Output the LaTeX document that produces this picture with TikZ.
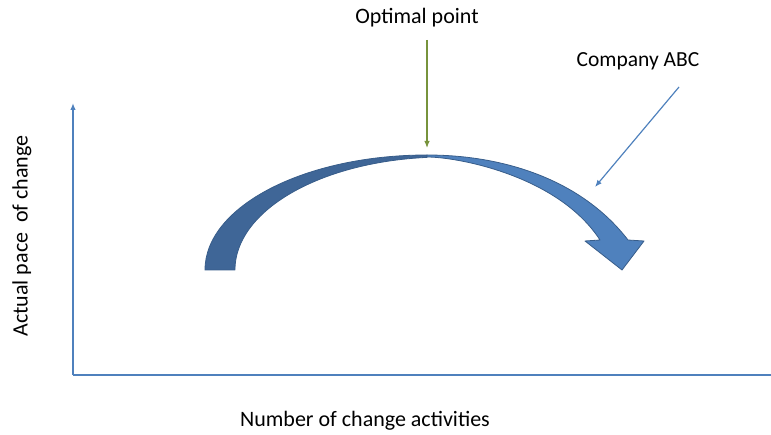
\documentclass[tikz,border=0pt]{standalone}
\usepackage{fontspec}
\setmainfont{Carlito}
\usetikzlibrary{arrows.meta}
\definecolor{axisblue}{HTML}{4F81BD}
\definecolor{bandlight}{HTML}{4F81BD}
\definecolor{banddark}{HTML}{3F6697}
\definecolor{bandedge}{HTML}{385D8A}
\definecolor{pointgreen}{HTML}{77933C}
\tikzset{
  label text/.style={font=\fontsize{22}{26}\selectfont, text=black, inner sep=0pt},
  axis line/.style={draw=axisblue, line width=1.4pt},
  pointer/.style={line width=1.2pt, -{Latex[length=7pt,width=5.5pt]}},
  band/.style={draw=bandedge, line width=0.8pt, line join=round},
}
\begin{document}
\begin{tikzpicture}[x=1pt,y=1pt]
\useasboundingbox (0,0) rectangle (771,434);

% axes
\coordinate (origin) at (73,59);
\coordinate (ytop) at (73,331);
\coordinate (xend) at (771,59);
\draw[axis line, -{Latex[length=7pt,width=5.5pt]}] (origin) -- (ytop);
\draw[axis line] (origin) -- (xend);

% axis captions
\node[label text] (xcap) at (365,13) {Number of change activities};
\node[label text, rotate=90] (ycap) at (22,198) {Actual pace\ \ of change};

% curved arrow: darker rising half
\path[band, fill=banddark]
  (205,164) arc[start angle=180, end angle=90, x radius=222, y radius=115]
  -- (427,276.6)
  arc[start angle=94.9, end angle=180, x radius=210, y radius=113] -- cycle;
% curved arrow: lighter falling half with its head
\path[band, fill=bandlight]
  (427,279) .. controls (507,279) and (583,252.5) .. (628,194)
  -- (644,193) -- (622,164) -- (585,193) -- (600,194)
  .. controls (558,258.7) and (457,277) .. (427,277) -- cycle;
\coordinate (peak) at (427,286);
\coordinate (slope) at (595,247);

% callouts
\node[label text] (optimal) at (417,416) {Optimal point};
\node[label text, font=\fontsize{21.5}{26}\selectfont] (company) at (638,373) {Company ABC};
\coordinate (optfrom) at (427,394);
\coordinate (compfrom) at (679,347);
\draw[pointer, pointgreen] (optfrom) -- (peak);
\draw[pointer, axisblue] (compfrom) -- (slope);
\end{tikzpicture}
\end{document}
